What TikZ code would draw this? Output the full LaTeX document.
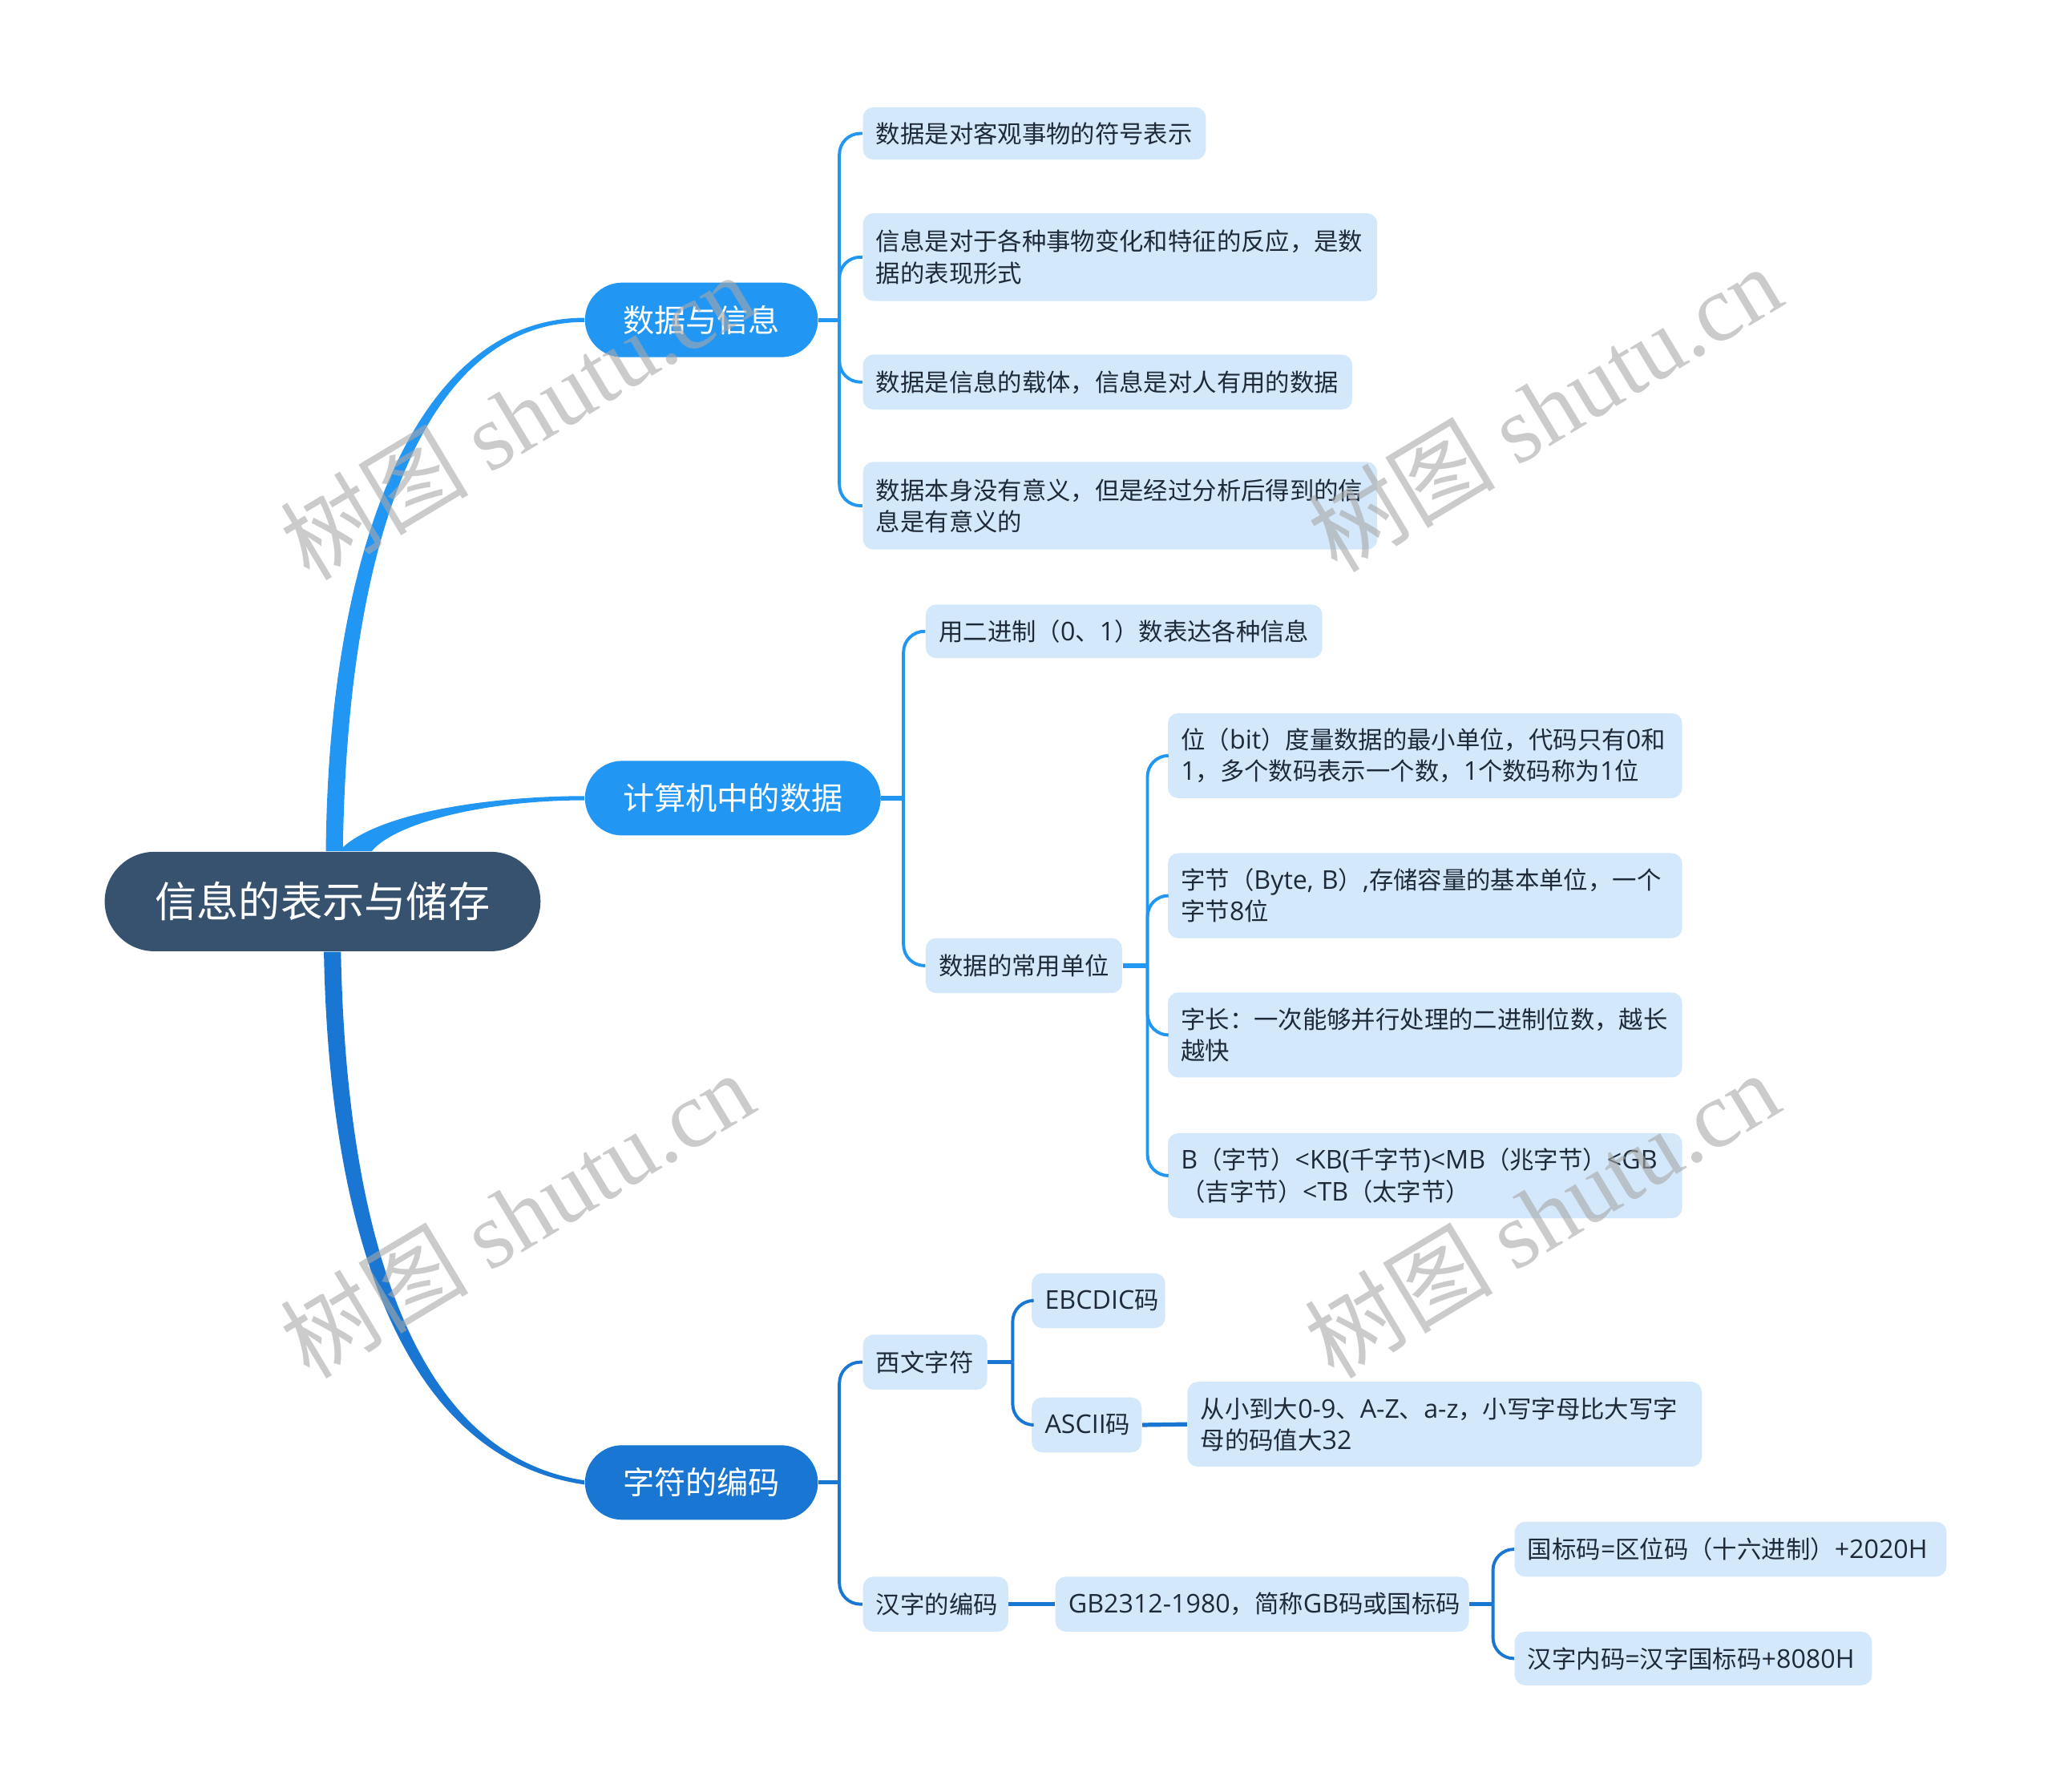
\documentclass[tikz,border=0pt]{standalone}
\usepackage{fontspec}
\setmainfont{Noto Sans CJK SC}
\newfontfamily\wmlatin{Liberation Serif}
\newfontfamily\latfont[Scale=1.06]{Open Sans}
\newcommand\lt[1]{\mbox{\latfont #1}}
\usetikzlibrary{calc}
\definecolor{rootc}{HTML}{37526E}
\definecolor{bluea}{HTML}{2196F3}
\definecolor{blueb}{HTML}{1976D2}
\definecolor{leafc}{HTML}{D3E8FA}
\definecolor{leaftext}{HTML}{1E2A38}
\definecolor{wmc}{HTML}{A8A8A8}
\begin{document}
\begin{tikzpicture}[x=0.5pt,y=-0.5pt,
  leaf/.style={fill=leafc, rounded corners=4pt, inner xsep=5pt, inner ysep=1pt,
    align=left, text=leaftext, font=\fontsize{9.3}{12}\selectfont, anchor=west},
  topic/.style={rounded corners=14.25pt, minimum height=28.5pt, text=white,
    font=\fontsize{12}{14}\selectfont, inner sep=0pt},
  lnA/.style={draw=bluea, line width=1.2pt, rounded corners=8pt},
  lnB/.style={draw=blueb, line width=1.2pt, rounded corners=8pt},
  stubA/.style={draw=bluea, line width=1.6pt},
  stubB/.style={draw=blueb, line width=1.6pt},
  wm/.style={text=wmc, text opacity=0.6, font=\fontsize{36}{40}\selectfont, rotate=31, inner sep=0pt}
]
\useasboundingbox (0,0) rectangle (1568,1369);

% root and main topics
\node[fill=rootc, rounded corners=19pt, minimum width=166.5pt, minimum height=38pt,
  text=white, font=\fontsize{16}{18}\selectfont, inner sep=0pt] (root) at (246.5,689) {信息的表示与储存};
\node[topic, fill=bluea, minimum width=89pt] (B1) at (536,244.5) {数据与信息};
\node[topic, fill=bluea, minimum width=113pt] (B2) at (560,610) {计算机中的数据};
\node[topic, fill=blueb, minimum width=89pt] (B3) at (536,1133) {字符的编码};

% tapered main connectors
\fill[bluea] ([xshift=1.25pt]root.north) .. controls +(2,-231) and +(-129,0) .. ([yshift=0.8pt]B1.west)
  -- ([yshift=-0.8pt]B1.west) .. controls +(-125,0) and +(3,-231) .. ([xshift=7.75pt]root.north) -- cycle;
\fill[bluea] ([xshift=6.25pt]root.north) .. controls +(25,-28) and +(-77,0) .. ([yshift=0.8pt]B2.west)
  -- ([yshift=-0.8pt]B2.west) .. controls +(-75,0) and +(18,-22) .. ([xshift=18.75pt]root.north) -- cycle;
\fill[blueb] ([xshift=0.5pt]root.south) .. controls +(3,173) and +(-157,-23) .. ([yshift=-0.8pt]B3.west)
  -- ([yshift=0.8pt]B3.west) .. controls +(-150,-22) and +(3,165) .. ([xshift=7pt]root.south) -- cycle;

% group 1
\node[leaf, text width=121pt, minimum height=20pt] (L1) at (659,102) {数据是对客观事物的符号表示};
\node[leaf, text width=186.5pt, minimum height=33.5pt] (L2) at (659,196.5) {信息是对于各种事物变化和特征的反应，是数\\据的表现形式};
\node[leaf, text width=177pt, minimum height=21pt] (L3) at (659,292) {数据是信息的载体，信息是对人有用的数据};
\node[leaf, text width=186.5pt, minimum height=33.5pt] (L4) at (659,386.5) {数据本身没有意义，但是经过分析后得到的信\\息是有意义的};
\draw[stubA] (B1.east) -- ++(16,0) coordinate (s1);
\foreach \n in {L1,L2,L3,L4} \draw[lnA] (s1) |- (\n.west);

% group 2
\node[leaf, text width=141.5pt, minimum height=20.5pt] (M1) at (707,482.5) {用二进制（\lt{0}、\lt{1}）数表达各种信息};
\node[leaf, text width=65pt, minimum height=21pt] (M2) at (707,738) {数据的常用单位};
\draw[stubA] (B2.east) -- ++(17,0) coordinate (s2);
\foreach \n in {M1,M2} \draw[lnA] (s2) |- (\n.west);

\node[leaf, text width=186.5pt, minimum height=32.5pt] (U1) at (892,577.5) {位（\lt{bit}）度量数据的最小单位，代码只有\lt{0}和\\\lt{1}，多个数码表示一个数，\lt{1}个数码称为\lt{1}位};
\node[leaf, text width=186.5pt, minimum height=32.5pt] (U2) at (892,684.5) {字节（\lt{Byte, B}）\lt{,}存储容量的基本单位，一个\\字节\lt{8}位};
\node[leaf, text width=186.5pt, minimum height=32.5pt] (U3) at (892,791) {字长：一次能够并行处理的二进制位数，越长\\越快};
\node[leaf, text width=186.5pt, minimum height=32.5pt] (U4) at (892,898.5) {\lt{B}（字节）\lt{<KB(}千字节\lt{)<MB}（兆字节）\lt{<GB}\\（吉字节）\lt{<TB}（太字节）};
\draw[stubA] (M2.east) -- ++(19,0) coordinate (s3);
\foreach \n in {U1,U2,U3,U4} \draw[lnA] (s3) |- (\n.west);

% group 3
\node[leaf, text width=37.5pt, minimum height=21pt] (W1) at (659,1041) {西文字符};
\node[leaf, text width=45.5pt, minimum height=21pt] (W2) at (659,1226) {汉字的编码};
\draw[stubB] (B3.east) -- ++(16,0) coordinate (s4);
\foreach \n in {W1,W2} \draw[lnB] (s4) |- (\n.west);

\node[leaf, text width=41pt, minimum height=21pt] (E1) at (788,994) {\lt{EBCDIC}码};
\node[leaf, text width=32pt, minimum height=21pt] (E2) at (788,1089) {\lt{ASCII}码};
\draw[stubB] (W1.east) -- ++(19,0) coordinate (s5);
\foreach \n in {E1,E2} \draw[lnB] (s5) |- (\n.west);

\node[leaf, text width=186.5pt, minimum height=32.5pt] (E3) at (907,1088.5) {从小到大\lt{0-9}、\lt{A-Z}、\lt{a-z}，小写字母比大写字\\母的码值大\lt{32}};
\draw[stubB] (E2.east) -- (E3.west);

\node[leaf, text width=148pt, minimum height=21pt] (G) at (806,1226) {\lt{GB2312-1980}，简称\lt{GB}码或国标码};
\draw[stubB] (W2.east) -- (G.west);

\node[leaf, text width=155pt, minimum height=21pt] (G1) at (1157,1184) {国标码\lt{=}区位码（十六进制）\lt{+2020H}};
\node[leaf, text width=126.5pt, minimum height=20.5pt] (G2) at (1157,1267.5) {汉字内码\lt{=}汉字国标码\lt{+8080H}};
\draw[stubB] (G.east) -- ++(18,0) coordinate (s6);
\foreach \n in {G1,G2} \draw[lnB] (s6) |- (\n.west);

% watermarks
\node[wm] (wm1) at (395,318) {树图 {\wmlatin shutu.cn}};
\node[wm] (wm2) at (1180,312) {树图 {\wmlatin shutu.cn}};
\node[wm] (wm3) at (395,928) {树图 {\wmlatin shutu.cn}};
\node[wm] (wm4) at (1178,928) {树图 {\wmlatin shutu.cn}};
\end{tikzpicture}
\end{document}
